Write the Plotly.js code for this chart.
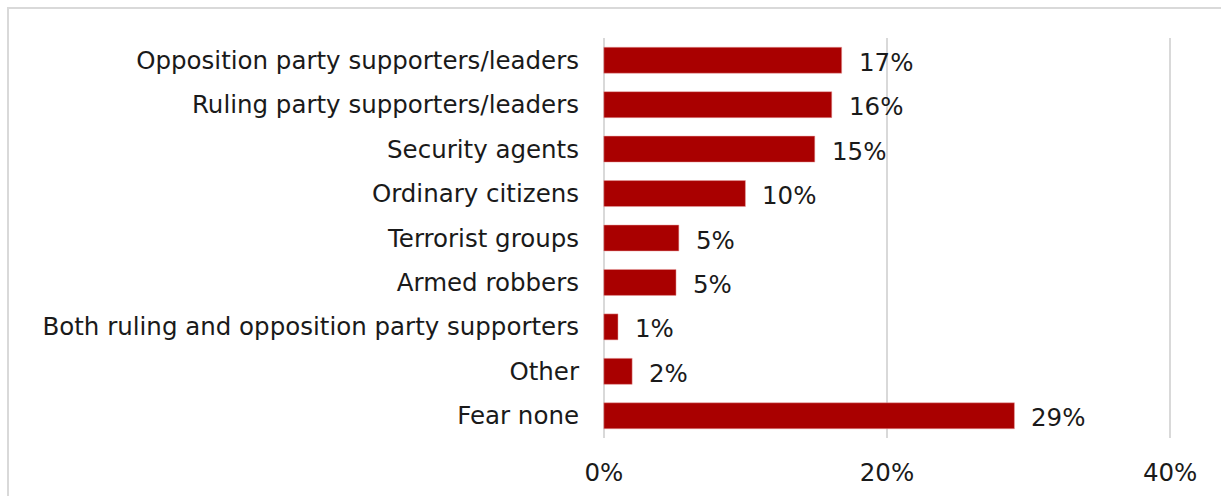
<!DOCTYPE html>
<html>
<head>
<meta charset="utf-8">
<script src="https://cdn.plot.ly/plotly-3.0.1.min.js"></script>
<style>
  html, body { margin:0; padding:0; background:#fff; overflow:hidden; }
  #chart { width:1221px; height:496px; position:absolute; left:0; top:0; }
  #frame { position:absolute; left:7px; top:7px; width:1300px; height:600px; border:2px solid #d9d9d9; pointer-events:none; box-sizing:border-box; }
</style>
</head>
<body>
<div id="chart"></div>
<div id="frame"></div>
<script>
const categories = [
  "Opposition party supporters/leaders",
  "Ruling party supporters/leaders",
  "Security agents",
  "Ordinary citizens",
  "Terrorist groups",
  "Armed robbers",
  "Both ruling and opposition party supporters",
  "Other",
  "Fear none"
];
const values = [16.8, 16.1, 14.9, 10, 5.3, 5.1, 1, 2, 29];
const valueLabels = ["17%", "16%", "15%", "10%", "5%", "5%", "1%", "2%", "29%"];
const xTicks = [0, 20, 40];
const xTickLabels = ["0%", "20%", "40%"];

const FONT = "'DejaVu Sans', sans-serif";
const FS = 24.5;
const barColor = "#A90000";

const trace = {
  type: "bar",
  orientation: "h",
  y: categories,
  x: values,
  marker: { color: barColor, line: { color: "#e8a0a0", width: 0.5 } },
  hoverinfo: "skip"
};

const annotations = categories.map((c, i) => ({
  x: values[i], y: c, xref: "x", yref: "y",
  text: valueLabels[i], showarrow: false,
  xanchor: "left", yanchor: "middle", xshift: 15, yshift: -2,
  font: { family: FONT, size: FS, color: "#1a1a1a" }
}));

const layout = {
  width: 1221, height: 496,
  margin: { l: 600.6, r: 48.2, t: 38, b: 58, pad: 0 },
  paper_bgcolor: "#ffffff", plot_bgcolor: "#ffffff",
  showlegend: false,
  bargap: 0.415,
  font: { family: FONT, size: FS, color: "#1a1a1a" },
  xaxis: {
    range: [-0.2, 40.2], tickvals: xTicks, ticktext: xTickLabels,
    showgrid: true, gridcolor: "#d9d9d9", gridwidth: 2,
    zeroline: false, showline: false, ticks: "",
    ticklabelstandoff: 17,
    tickfont: { family: FONT, size: FS, color: "#1a1a1a" },
    fixedrange: true
  },
  yaxis: {
    autorange: "reversed", type: "category",
    showgrid: false, zeroline: false, showline: false, ticks: "",
    ticklabelstandoff: 21,
    tickfont: { family: FONT, size: FS, color: "#1a1a1a" },
    fixedrange: true
  },
  annotations: annotations
};

Plotly.newPlot("chart", [trace], layout, { displayModeBar: false, staticPlot: true });
</script>
</body>
</html>
